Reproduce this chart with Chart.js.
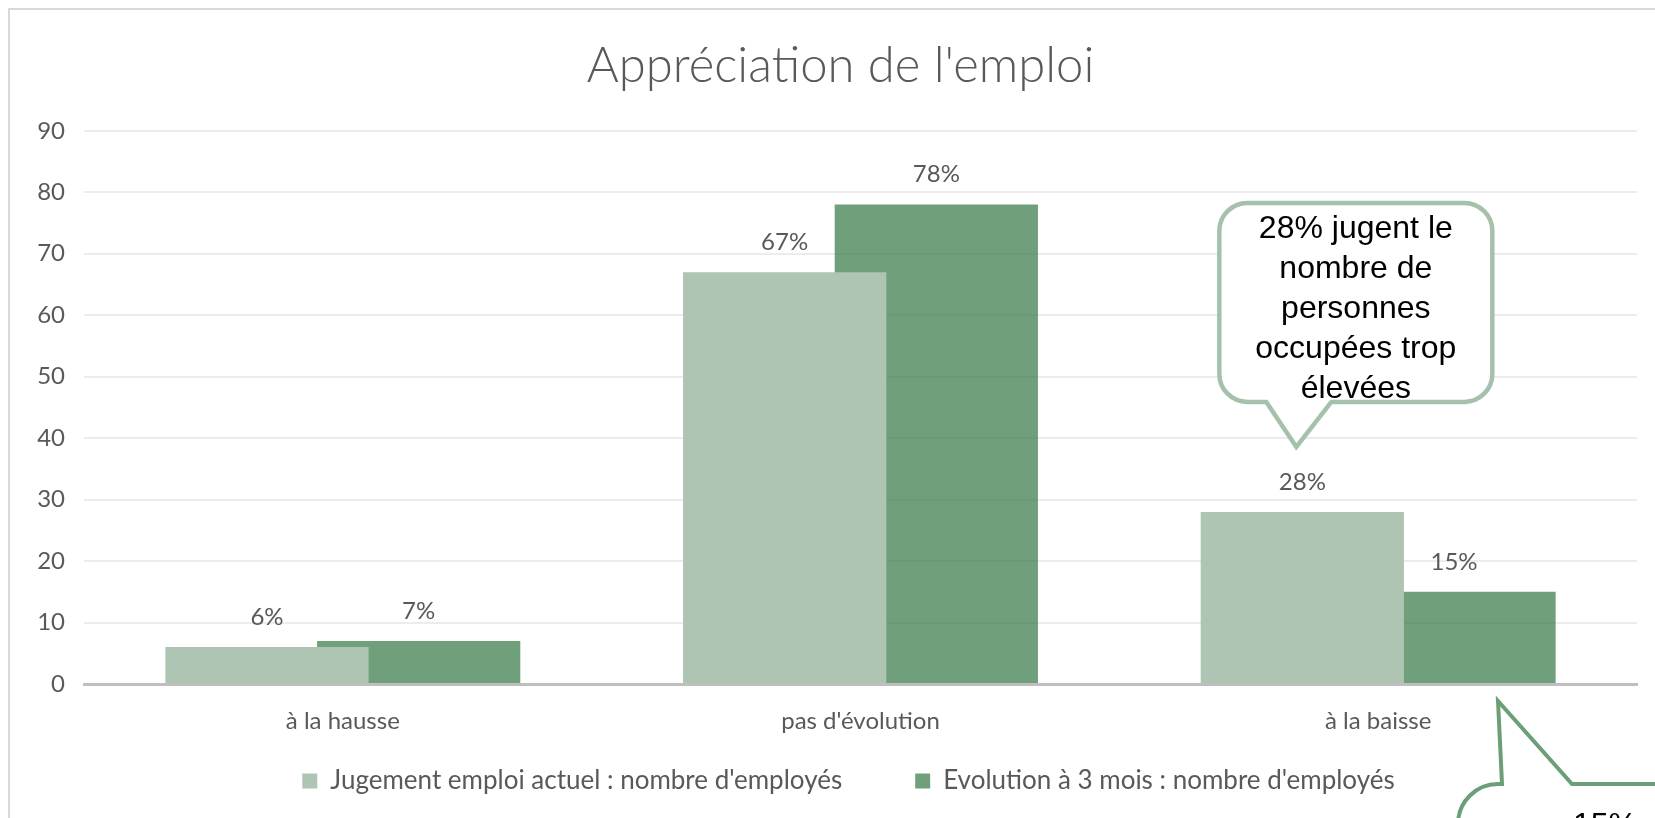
<!DOCTYPE html>
<html lang="fr">
<head>
<meta charset="utf-8">
<title>Appréciation de l'emploi</title>
<script src="https://cdn.jsdelivr.net/npm/chart.js@4.4.1/dist/chart.umd.min.js"></script>
<style>
  html, body { margin: 0; padding: 0; background: #fff; }
  body { width: 1655px; height: 818px; overflow: hidden; position: relative; }
  .frame { position: absolute; left: 8px; top: 8px; width: 1700px; height: 900px; border: 2px solid #d9d9d9; box-sizing: border-box; }
  .chart-box { position: absolute; left: 0; top: 0; width: 1655px; height: 818px; }
</style>
</head>
<body>
<div class="frame"></div>
<div class="chart-box"><canvas id="myChart"></canvas></div>
<script>
// Data

const categories = ['à la hausse', "pas d'évolution", 'à la baisse'];
const jugementActuel = [6, 67, 28];
const evolution3Mois = [7, 78, 15];
const seriesNames = ["Jugement emploi actuel : nombre d'employés", "Evolution à 3 mois : nombre d'employés"];
const yTicks = [0, 10, 20, 30, 40, 50, 60, 70, 80, 90];
const calloutLines = ['28% jugent le', 'nombre de', 'personnes', 'occupées trop', 'élevées'];
const callout2Text = '15%';

// Settings

const colors = {
  light: '#aec5b3',
  dark: 'rgba(59, 125, 74, 0.73)',
  text: '#595959',
  grid: '#ececec',
  axis: '#bfbfbf',
  bubble1: '#a5c1ab',
  bubble2: '#6a9f77',
};

const labelFont = { family: 'Lato', size: 24 };
const legendFont = { family: 'Lato', size: 26 };

// Plugins

const valueLabels = {
  id: 'valueLabels',
  afterDatasetsDraw(chart) {
    const ctx = chart.ctx;
    ctx.save();
    ctx.font = labelFont.size + 'px ' + labelFont.family;
    ctx.fillStyle = colors.text;
    ctx.textAlign = 'center';
    ctx.textBaseline = 'middle';
    chart.data.datasets.forEach(function(ds, i) {
      chart.getDatasetMeta(i).data.forEach(function(bar, j) {
        ctx.fillText(ds.data[j] + '%', bar.x, bar.y - 30);
      });
    });
    ctx.restore();
  }
};

// the legend needs a wide gap between items, so its padding is big;
// pull its top back up. Title and legend sit a bit right of the middle in the original
const boxShift = {
  id: 'boxShift',
  afterLayout(chart) {
    const lg = chart.legend;
    lg.left += 30;
    lg.right += 30;
    lg.top -= 44;
    lg.height += 44;

    const tb = chart.titleBlock;
    tb.left += 22;
    tb.right += 22;
  }
};

const callouts = {
  id: 'callouts',
  afterDraw(chart) {
    const ctx = chart.ctx;
    ctx.save();

    // bubble above "à la baisse"
    const bar = chart.getDatasetMeta(0).data[2];
    const tipX = bar.x - 6;
    const tipY = bar.y - 65;
    const left = tipX - 77, right = tipX + 196, top = tipY - 244, bottom = tipY - 45, r = 28;

    ctx.beginPath();
    ctx.moveTo(left + r, top);
    ctx.arcTo(right, top, right, bottom, r);
    ctx.arcTo(right, bottom, left, bottom, r);
    ctx.lineTo(tipX + 35, bottom);
    ctx.lineTo(tipX, tipY);
    ctx.lineTo(tipX - 30, bottom);
    ctx.arcTo(left, bottom, left, top, r);
    ctx.arcTo(left, top, right, top, r);
    ctx.closePath();
    ctx.fillStyle = '#fff';
    ctx.fill();
    ctx.lineWidth = 4.5;
    ctx.strokeStyle = colors.bubble1;
    ctx.stroke();

    ctx.fillStyle = '#000';
    ctx.font = '32px "Liberation Sans", Arial';
    ctx.textAlign = 'center';
    ctx.textBaseline = 'middle';
    calloutLines.forEach(function(line, i) {
      ctx.fillText(line, (left + right) / 2, top + 26 + i * 40);
    });

    // bubble below the chart, cut by the picture edge
    const bar2 = chart.getDatasetMeta(1).data[2];
    const tip2X = bar2.x + 44;
    const tip2Y = bar2.base + 18;
    const boxTop = tip2Y + 83;
    const boxLeft = tip2X - 40;
    const r2 = 40;

    function outline() {
      ctx.beginPath();
      ctx.moveTo(chart.width + 20, boxTop);
      ctx.lineTo(tip2X + 74, boxTop);
      ctx.lineTo(tip2X, tip2Y);
      ctx.lineTo(tip2X + 4, boxTop);
      ctx.arcTo(boxLeft, boxTop, boxLeft, boxTop + r2, r2);
      ctx.lineTo(boxLeft, chart.height + 20);
    }

    outline();
    ctx.lineTo(chart.width + 20, chart.height + 20);
    ctx.fillStyle = '#fff';
    ctx.fill();
    outline();
    ctx.lineWidth = 4;
    ctx.strokeStyle = colors.bubble2;
    ctx.stroke();

    ctx.fillStyle = '#000';
    ctx.textAlign = 'left';
    ctx.textBaseline = 'alphabetic';
    ctx.fillText(callout2Text, tip2X + 75, tip2Y + 134);

    ctx.restore();
  }
};

// Chart

const ctx = document.getElementById('myChart').getContext('2d');

const chart = new Chart(ctx, {
  type: 'bar',
  data: {
    labels: categories,
    datasets: [{
      label: seriesNames[0],
      data: jugementActuel,
      backgroundColor: colors.light,
      borderWidth: 0,
    },
    {
      label: seriesNames[1],
      data: evolution3Mois,
      backgroundColor: colors.dark,
      borderWidth: 0,
    }]
  },
  options: {
    responsive: true,
    maintainAspectRatio: false,
    animation: false,
    categoryPercentage: 0.586,
    barPercentage: 1.34,
    layout: { padding: { left: 0, right: 18, top: 0, bottom: 0 } },
    scales: {
      x: {
        grid: { display: false, drawTicks: false },
        border: { display: true, color: colors.axis, width: 3 },
        ticks: { color: colors.text, font: labelFont, padding: 23 },
        afterFit(scale) { scale.height = 55; },
      },
      y: {
        min: yTicks[0],
        max: yTicks[yTicks.length - 1],
        ticks: { stepSize: yTicks[1] - yTicks[0], color: colors.text, font: labelFont, padding: 19 },
        grid: {
          drawTicks: false,
          lineWidth: 2,
          color: function(c) { return c.tick && c.tick.value === 0 ? 'rgba(0,0,0,0)' : colors.grid; },
        },
        border: { display: false },
        afterFit(scale) { scale.width = 84; },
      }
    },
    plugins: {
      title: {
        display: true,
        text: "Appréciation de l'emploi",
        color: colors.text,
        font: { family: 'Lato', size: 49, weight: '300', lineHeight: 1.2 },
        padding: { top: 37, bottom: 35 },
      },
      legend: {
        position: 'bottom',
        maxHeight: 79,
        labels: {
          color: colors.text,
          font: legendFont,
          boxWidth: 15,
          boxHeight: 15,
          padding: 73,
        }
      },
      tooltip: { enabled: false },
    }
  },
  plugins: [valueLabels, boxShift, callouts],
});
</script>
</body>
</html>
